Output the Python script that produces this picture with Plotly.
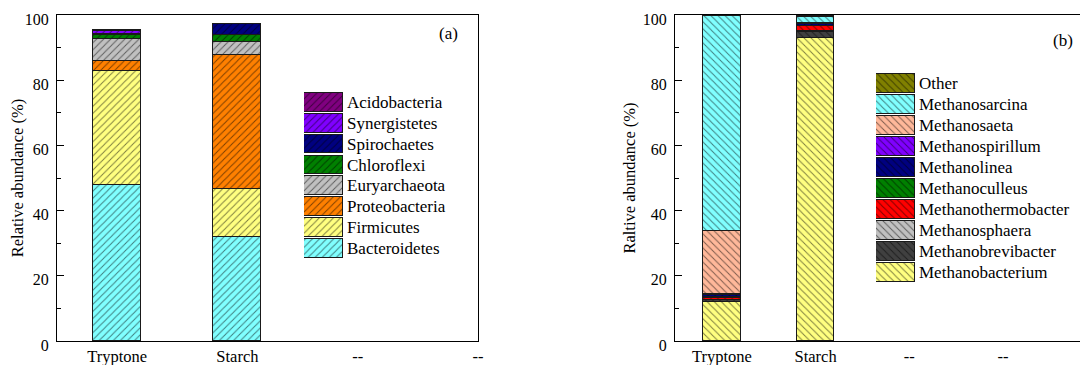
import plotly.graph_objects as go

# ---------------- data ----------------
categories = ["Tryptone", "Starch", "--", "--"]
cat_pos = [0, 1, 2, 3]

phyla = ["Bacteroidetes", "Firmicutes", "Proteobacteria", "Euryarchaeota",
         "Chloroflexi", "Spirochaetes", "Synergistetes", "Acidobacteria"]
phyla_tryptone = [47.8, 34.9, 3.2, 6.6, 1.5, 0.2, 0.9, 0.2]
phyla_starch = [32.0, 14.5, 41.2, 3.9, 2.4, 3.1, 0.0, 0.0]
phyla_colors = ["#80FFFF", "#FFFF80", "#FF8000", "#C0C0C0",
                "#008000", "#000080", "#8000FF", "#800080"]

genera = ["Methanobacterium", "Methanobrevibacter", "Methanosphaera",
          "Methanothermobacter", "Methanoculleus", "Methanolinea",
          "Methanospirillum", "Methanosaeta", "Methanosarcina", "Other"]
genera_tryptone = [12.1, 0.5, 0.1, 0.6, 0.1, 0.8, 0.1, 19.3, 66.2, 0.2]
genera_starch = [93.0, 1.8, 0.2, 1.5, 0.2, 0.4, 0.1, 0.2, 2.0, 0.3]
genera_colors = ["#FFFF80", "#404040", "#C0C0C0", "#FF0000", "#008000",
                 "#000080", "#8000FF", "#FFB89A", "#80FFFF", "#808000"]

# ---------------- styling ----------------
OFF = 8                    # page body margin of the html page
W, H = 1088 - OFF, 365 - OFF
FONT = "Liberation Serif"
LINE = "#1a1a1a"


def px_x(p):
    return (p - OFF) / W


def px_y(p):
    return (365 - p) / H


def marker(color, shape):
    return dict(color=color, line=dict(color=LINE, width=1),
                pattern=dict(shape=shape, fgcolor="black", size=5, solidity=0.2))


fig = go.Figure()

# panel (a) bars
for name, t, s, c in zip(phyla, phyla_tryptone, phyla_starch, phyla_colors):
    fig.add_trace(go.Bar(x=cat_pos[:2], y=[t, s], name=name, width=0.4,
                         marker=marker(c, "/"), xaxis="x", yaxis="y",
                         showlegend=False))

# panel (b) bars
for name, t, s, c in zip(genera, genera_tryptone, genera_starch, genera_colors):
    fig.add_trace(go.Bar(x=cat_pos[:2], y=[t, s], name=name, width=0.4,
                         marker=marker(c, "\\"), xaxis="x2", yaxis="y2",
                         showlegend=False))

# legend swatches (a)
leg_a = list(reversed(phyla))
leg_a_col = list(reversed(phyla_colors))
for i, (name, c) in enumerate(zip(leg_a, leg_a_col)):
    fig.add_trace(go.Bar(x=[1], y=[i], orientation="h", width=0.9, name=name,
                         marker=marker(c, "/"), xaxis="x3", yaxis="y3",
                         showlegend=False, hoverinfo="skip"))

# legend swatches (b)
leg_b = list(reversed(genera))
leg_b_col = list(reversed(genera_colors))
for i, (name, c) in enumerate(zip(leg_b, leg_b_col)):
    fig.add_trace(go.Bar(x=[1], y=[i], orientation="h", width=0.9, name=name,
                         marker=marker(c, "\\"), xaxis="x4", yaxis="y4",
                         showlegend=False, hoverinfo="skip"))

tickfont = dict(family=FONT, size=16.5, color="black")
ytickfont = dict(family=FONT, size=16, color="black")
ydom = [px_y(341), px_y(15)]

xcommon = dict(tickvals=cat_pos, ticktext=categories, showline=True,
               linecolor="black", linewidth=1.3, mirror=True, ticks="",
               showgrid=False, zeroline=False, tickfont=tickfont,
               ticklabelstandoff=0, fixedrange=True, automargin=False)
ycommon = dict(range=[0, 100], tickvals=[0, 20, 40, 60, 80, 100], ticks="inside",
               ticklen=7, tickwidth=1.2, tickcolor="black",
               minor=dict(ticks="inside", ticklen=4, tickvals=[10, 30, 50, 70, 90],
                          tickcolor="black", tickwidth=1.2),
               showline=True, linecolor="black", linewidth=1.3,
               showgrid=False, zeroline=False, tickfont=ytickfont,
               ticklabelstandoff=4, ticklabelshift=4, ticklabeloverflow="allow",
               domain=ydom, automargin=False)

fig.update_layout(
    width=W, height=H,
    margin=dict(l=0, r=0, t=0, b=0, pad=0),
    paper_bgcolor="white", plot_bgcolor="white",
    barmode="stack", bargap=0,
    font=dict(family=FONT, color="black"),
    xaxis=dict(domain=[px_x(57), px_x(478)], range=[-0.5, 3.0], anchor="y", **xcommon),
    yaxis=dict(anchor="x", mirror=True,
               title=dict(text="Relative abundance (%)", standoff=2,
                          font=dict(family=FONT, size=16.5, color="black")),
               **ycommon),
    xaxis2=dict(domain=[px_x(675), 1.0], range=[-0.5, 3.907], anchor="y2", **xcommon),
    yaxis2=dict(anchor="x2", mirror=False,
                title=dict(text="Raltive abundance (%)", standoff=2,
                           font=dict(family=FONT, size=16.5, color="black")),
                **ycommon),
    xaxis3=dict(domain=[px_x(304), px_x(343)], range=[0, 1], anchor="y3",
                visible=False, fixedrange=True),
    yaxis3=dict(domain=[px_y(258.4), px_y(91.8)], range=[len(leg_a) - 0.5, -0.5],
                anchor="x3", side="right", tickvals=list(range(len(leg_a))),
                ticktext=leg_a, ticks="", showline=False, showgrid=False,
                zeroline=False, ticklabelstandoff=3, automargin=False,
                tickfont=dict(family=FONT, size=17, color="black")),
    xaxis4=dict(domain=[px_x(876), px_x(915)], range=[0, 1], anchor="y4",
                visible=False, fixedrange=True),
    yaxis4=dict(domain=[px_y(282.5), px_y(72.5)], range=[len(leg_b) - 0.5, -0.5],
                anchor="x4", side="right", tickvals=list(range(len(leg_b))),
                ticktext=leg_b, ticks="", showline=False, showgrid=False,
                zeroline=False, ticklabelstandoff=3, automargin=False,
                tickfont=dict(family=FONT, size=17, color="black")),
    annotations=[
        dict(text="(a)", x=px_x(448), y=px_y(34), xref="paper", yref="paper",
             xanchor="center", yanchor="middle",
             showarrow=False, font=dict(family=FONT, size=17, color="black")),
        dict(text="(b)", x=px_x(1063), y=px_y(40), xref="paper", yref="paper",
             xanchor="center", yanchor="middle",
             showarrow=False, font=dict(family=FONT, size=17, color="black")),
    ],
)

fig.write_html("out.html")
